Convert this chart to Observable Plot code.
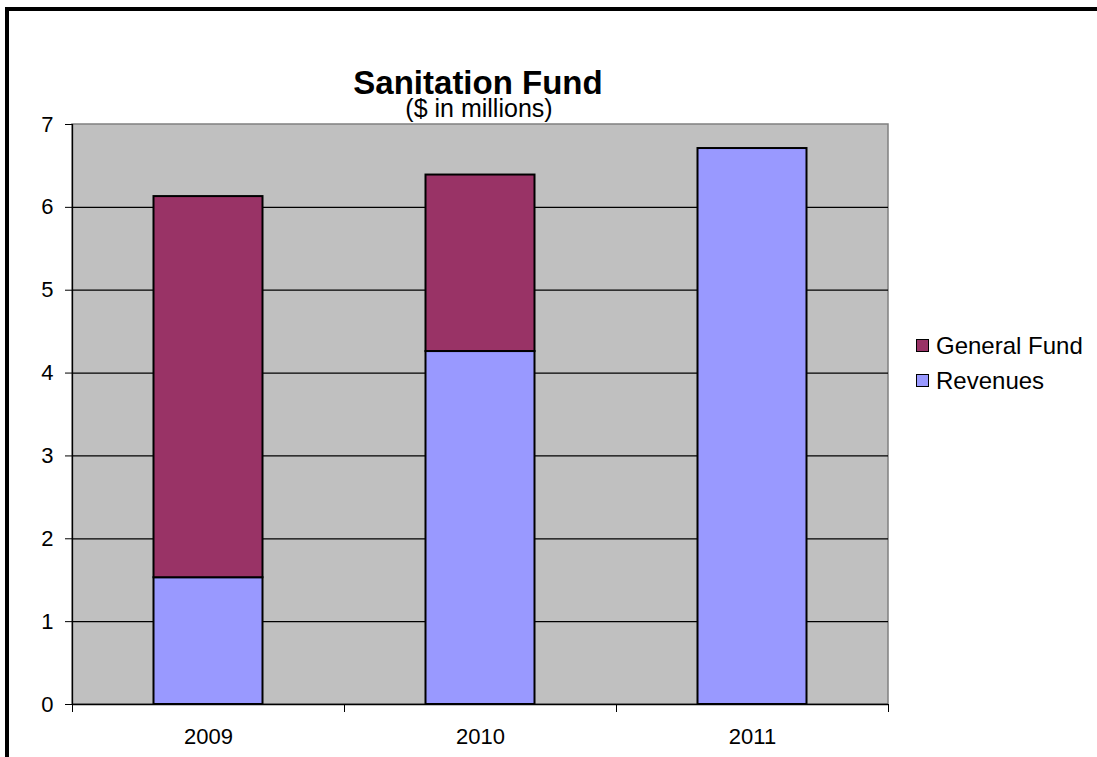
<!DOCTYPE html>
<html>
<head>
<meta charset="utf-8">
<script src="https://cdn.jsdelivr.net/npm/d3@7"></script>
<script src="https://cdn.jsdelivr.net/npm/@observablehq/plot@0.6"></script>
<style>
  html, body { margin: 0; padding: 0; background: #fff; overflow: hidden; }
  #wrap { position: relative; width: 1097px; height: 757px; font-family: "Liberation Sans", Arial, sans-serif; }
  #frame { position: absolute; left: 5px; top: 7px; width: 2000px; height: 2000px; border: 4px solid #000; }
  #title { position: absolute; left: 0; width: 956px; top: 71px; text-align: center; font-weight: bold; font-size: 33px; line-height: 24px; white-space: nowrap; }
  #sub { position: absolute; left: 0; width: 958px; top: 100px; text-align: center; font-size: 25px; line-height: 17px; white-space: nowrap; }
  #legend { position: absolute; left: 916px; top: 328px; font-size: 24px; }
  .li { display: flex; align-items: center; height: 35px; white-space: nowrap; }
  .sw { width: 11px; height: 11px; border: 1.5px solid #000; margin-right: 7px; flex: none; }
  #chart { position: absolute; left: 0; top: 0; }
</style>
</head>
<body>
<div id="wrap">
  <div id="frame"></div>
  <div id="chart"></div>
  <div id="title">Sanitation Fund</div>
  <div id="sub">($ in millions)</div>
  <div id="legend"></div>
</div>
<script>
const years = ["2009", "2010", "2011"];
const revenues = [1.53, 4.26, 6.71];
const generalFund = [4.6, 2.13, 0];
const seriesNames = ["Revenues", "General Fund"];
const seriesColors = ["#9999FF", "#993366"];
const legendOrder = ["General Fund", "Revenues"];
const yTicks = [0, 1, 2, 3, 4, 5, 6, 7];

const data = [];
years.forEach((y, i) => {
  data.push({i, year: y, series: "Revenues", value: revenues[i]});
  data.push({i, year: y, series: "General Fund", value: generalFund[i]});
});
const shown = data.filter(d => d.value > 0);

const n = years.length;
const chart = Plot.plot({
  width: 1097,
  height: 757,
  marginLeft: 72,
  marginRight: 209,
  marginTop: 124,
  marginBottom: 53,
  style: {fontFamily: "Liberation Sans, Arial, sans-serif", fontSize: "22px", color: "#000", background: "transparent"},
  x: {domain: [0, n], axis: null, label: null},
  y: {domain: [0, 7], axis: null, label: null},
  color: {domain: seriesNames, range: seriesColors},
  marks: [
    Plot.rect([0], {x1: 0, x2: n, y1: 0, y2: 7, fill: "#C0C0C0", stroke: "#808080", strokeWidth: 1.5}),
    Plot.ruleY(yTicks.filter(t => t > 0 && t < 7), {stroke: "#000", strokeWidth: 1.3}),
    Plot.rectY(shown, Plot.stackY({
      x1: "i",
      x2: d => d.i + 1,
      y: "value",
      fill: "series",
      order: seriesNames,
      stroke: "#000",
      strokeWidth: 2,
      insetLeft: 81.5,
      insetRight: 81.5
    })),
    Plot.ruleX([0], {stroke: "#000", strokeWidth: 1.3}),
    Plot.ruleY([0], {stroke: "#000", strokeWidth: 1.3}),
    Plot.axisY({ticks: yTicks, label: null, tickSize: 7, tickPadding: 12, tickFormat: d => String(d), fontSize: 22, stroke: "#000"}),
    Plot.axisX({ticks: d3.range(n + 1), label: null, tickSize: 8, tickFormat: () => "", stroke: "#000"}),
    Plot.axisX({ticks: d3.range(n).map(k => k + 0.5), label: null, tickSize: 0, tickPadding: 24, tickFormat: d => years[Math.floor(d)], fontSize: 22})
  ]
});
document.getElementById("chart").appendChild(chart);

const leg = document.getElementById("legend");
legendOrder.forEach(name => {
  const row = document.createElement("div");
  row.className = "li";
  const sw = document.createElement("span");
  sw.className = "sw";
  sw.style.background = seriesColors[seriesNames.indexOf(name)];
  const tx = document.createElement("span");
  tx.textContent = name;
  row.appendChild(sw);
  row.appendChild(tx);
  leg.appendChild(row);
});
</script>
</body>
</html>
